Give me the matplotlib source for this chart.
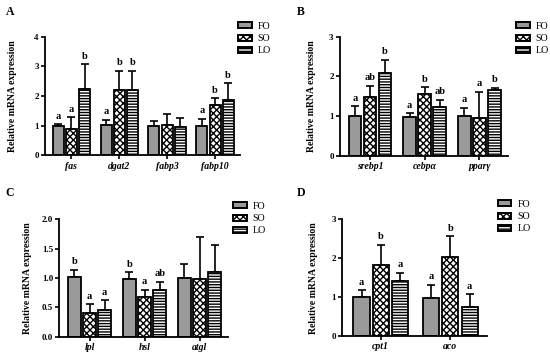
import matplotlib
matplotlib.use('Agg')
import matplotlib.pyplot as plt
import numpy as np
from matplotlib.patches import Patch

plt.rcParams['font.family'] = ['Liberation Serif', 'DejaVu Serif']
plt.rcParams['hatch.linewidth'] = 1.0

groups = ['FO', 'SO', 'LO']

# panel A
genes_a = ['fas', 'dgat2', 'fabp3', 'fabp10']
mean_a = [[0.99, 1.03, 0.99, 0.98],
          [0.89, 2.20, 1.03, 1.70],
          [2.25, 2.20, 0.96, 1.87]]
top_a = [[1.04, 1.19, 1.17, 1.24],
         [1.28, 2.85, 1.39, 1.92],
         [3.07, 2.85, 1.27, 2.43]]
sig_a = [['a', 'a', '', 'a'],
         ['a', 'b', '', 'b'],
         ['b', 'b', '', 'b']]

# panel B
genes_b = ['srebp1', 'cebpα', 'pparγ']
mean_b = [[1.01, 0.98, 1.00],
          [1.49, 1.57, 0.96],
          [2.10, 1.24, 1.65]]
top_b = [[1.25, 1.08, 1.21],
         [1.77, 1.73, 1.62],
         [2.42, 1.41, 1.72]]
sig_b = [['a', 'a', 'a'],
         ['ab', 'b', 'a'],
         ['b', 'ab', 'b']]

# panel C
genes_c = ['lpl', 'hsl', 'atgl']
mean_c = [[1.02, 0.98, 1.00],
          [0.41, 0.68, 0.99],
          [0.45, 0.80, 1.11]]
top_c = [[1.14, 1.10, 1.23],
         [0.55, 0.80, 1.69],
         [0.62, 0.94, 1.56]]
sig_c = [['b', 'b', ''],
         ['a', 'a', ''],
         ['a', 'ab', '']]

# panel D
genes_d = ['cpt1', 'aco']
mean_d = [[1.00, 0.97],
          [1.82, 2.02],
          [1.41, 0.75]]
top_d = [[1.17, 1.32],
         [2.35, 2.56],
         [1.63, 1.07]]
sig_d = [['a', 'a'],
         ['b', 'b'],
         ['a', 'a']]

styles = [dict(facecolor='#9a9a9a', hatch=None),
          dict(facecolor='white', hatch='xxxxx'),
          dict(facecolor='white', hatch='------')]


def draw_panel(ax, genes, means, tops, sigs, ymax, yticks, yfmt):
    """Draws one grouped bar panel"""
    x = np.arange(len(genes))
    pitch = 0.275
    width = 0.23
    for i in range(3):
        xs = x + (i - 1) * pitch
        ax.bar(xs, means[i], width, edgecolor='black', linewidth=1.3,
               zorder=2, **styles[i])
        err = np.array(tops[i]) - np.array(means[i])
        ax.errorbar(xs, means[i], yerr=[np.zeros(len(xs)), err], fmt='none',
                    ecolor='black', elinewidth=1.2, capsize=3, capthick=1.2,
                    zorder=1)
        for j in range(len(xs)):
            if sigs[i][j]:
                ax.annotate(sigs[i][j], (xs[j], tops[i][j]), xytext=(0, 4),
                            textcoords='offset points', ha='center',
                            va='baseline', fontsize=7.5, fontweight='bold')
    ax.set_xlim(-0.55, len(genes) - 1 + 0.52)
    ax.set_ylim(0, ymax)
    ax.set_yticks(yticks)
    ax.set_yticklabels([yfmt.format(t) for t in yticks], fontsize=6.5,
                       fontweight='bold')
    ax.set_xticks(x)
    ax.set_xticklabels(genes, fontsize=7, fontweight='bold', style='italic')
    for s in ['top', 'right']:
        ax.spines[s].set_visible(False)
    for s in ['left', 'bottom']:
        ax.spines[s].set_linewidth(1.3)
    ax.tick_params(width=1.2, length=3, pad=1.5)
    ax.set_ylabel('Relative mRNA expression', fontsize=7, fontweight='bold')


fig = plt.figure(figsize=(5.5, 3.56), dpi=100)

ax_a = fig.add_axes([0.0818, 0.5638, 0.3545, 0.333])
ax_b = fig.add_axes([0.618, 0.5618, 0.3055, 0.335])
ax_c = fig.add_axes([0.1078, 0.0542, 0.307, 0.3298])
ax_d = fig.add_axes([0.6224, 0.0562, 0.2625, 0.3278])

draw_panel(ax_a, genes_a, mean_a, top_a, sig_a, 4, [0, 1, 2, 3, 4], '{:d}')
draw_panel(ax_b, genes_b, mean_b, top_b, sig_b, 3, [0, 1, 2, 3], '{:d}')
draw_panel(ax_c, genes_c, mean_c, top_c, sig_c, 2.0, [0.0, 0.5, 1.0, 1.5, 2.0], '{:.1f}')
draw_panel(ax_d, genes_d, mean_d, top_d, sig_d, 3, [0, 1, 2, 3], '{:d}')

ax_a.yaxis.set_label_coords(-0.145, 0.5)
ax_b.yaxis.set_label_coords(-0.14, 0.5)
ax_c.yaxis.set_label_coords(-0.16, 0.5)
ax_d.yaxis.set_label_coords(-0.17, 0.5)

handles = [Patch(edgecolor='black', linewidth=1.4, **styles[i]) for i in range(3)]
# legend anchors in figure pixels (left of patch, top of first row)
legend_px = [(238, 22), (516, 22), (233, 202), (498, 200)]
for ax, (px, py) in zip([ax_a, ax_b, ax_c, ax_d], legend_px):
    ax.legend(handles, groups, loc='upper left',
              bbox_to_anchor=(px / 550, 1 - py / 356),
              bbox_transform=fig.transFigure, frameon=False, fontsize=7.2,
              handlelength=1.35, handleheight=0.55, labelspacing=0.32,
              handletextpad=0.6, borderpad=0, borderaxespad=0)

labels = [('A', 0.01, 0.965), ('B', 0.54, 0.965), ('C', 0.01, 0.458), ('D', 0.54, 0.458)]
for t, x, y in labels:
    fig.text(x, y, t, fontsize=8.5, fontweight='bold', ha='left', va='center')

fig.savefig('out.png', dpi=100)
